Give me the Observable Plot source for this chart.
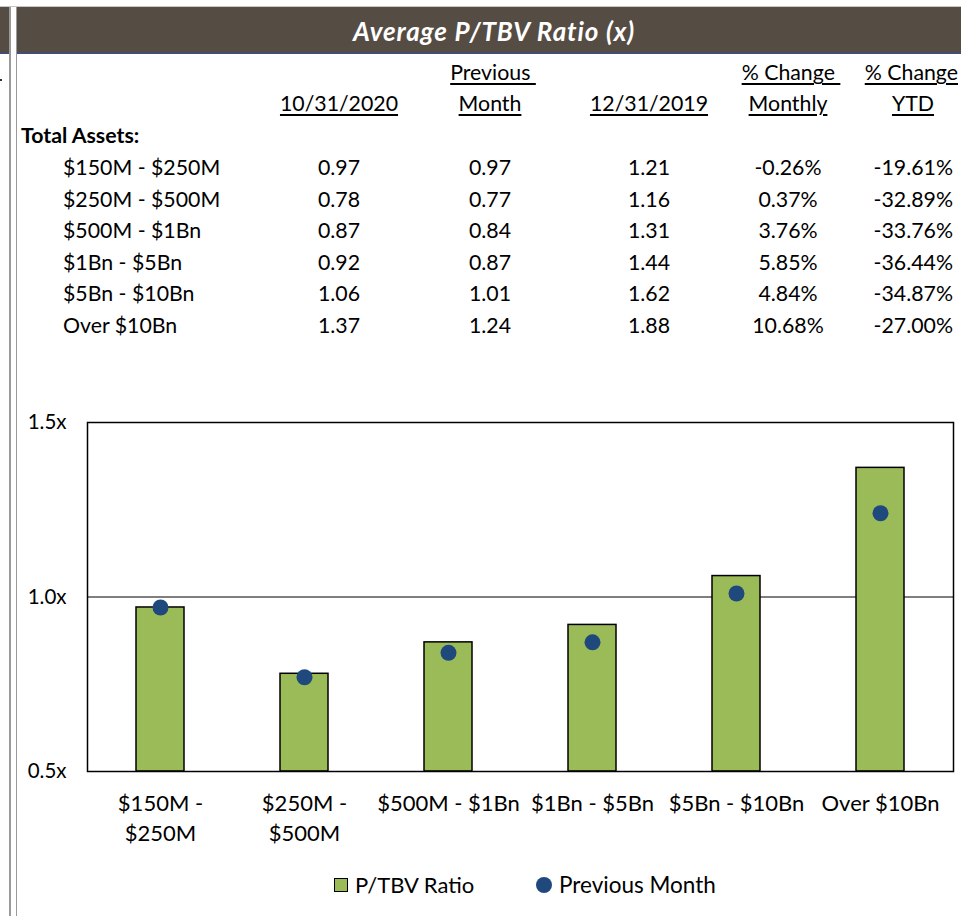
<!DOCTYPE html>
<html>
<head>
<meta charset="utf-8">
<script src="https://cdn.jsdelivr.net/npm/d3@7"></script>
<script src="https://cdn.jsdelivr.net/npm/@observablehq/plot@0.6"></script>
<style>
  html, body { margin: 0; padding: 0; background: #fff; }
  body { width: 961px; height: 916px; position: relative; overflow: hidden; font-family: Lato, "Open Sans", sans-serif; color: #000; }
  .abs { position: absolute; white-space: pre; }
  .cell { position: absolute; white-space: pre; font-size: 21.3px; line-height: 24px; transform: translate(-50%, -50%); }
  .left { transform: translate(0, -50%); }
  .u { text-decoration: underline; text-underline-offset: 3px; text-decoration-thickness: 1.5px; }
</style>
</head>
<body>
<div id="frame"></div>
<div id="table"></div>
<div id="chart" style="position:absolute;left:0;top:390px;"></div>
<div id="legend"></div>
<script>
// ---------------- data ----------------
const title = "Average P/TBV Ratio (x)";
const categories = ["$150M - $250M", "$250M - $500M", "$500M - $1Bn", "$1Bn - $5Bn", "$5Bn - $10Bn", "Over $10Bn"];
const xTickLabels = ["$150M -\n$250M", "$250M -\n$500M", "$500M - $1Bn", "$1Bn - $5Bn", "$5Bn - $10Bn", "Over $10Bn"];
const current = [0.97, 0.78, 0.87, 0.92, 1.06, 1.37];      // 10/31/2020
const previousMonth = [0.97, 0.77, 0.84, 0.87, 1.01, 1.24];
const yearEnd2019 = [1.21, 1.16, 1.31, 1.44, 1.62, 1.88];
const changeMonthly = ["-0.26%", "0.37%", "3.76%", "5.85%", "4.84%", "10.68%"];
const changeYTD = ["-19.61%", "-32.89%", "-33.76%", "-36.44%", "-34.87%", "-27.00%"];
const headerLine1 = ["", "Previous\u00a0", "", "% Change\u00a0", "% Change"];
const headerLine2 = ["10/31/2020", "Month", "12/31/2019", "Monthly", "YTD"];
const rowGroupLabel = "Total Assets:";
const yTicks = [0.5, 1.0, 1.5];
const yDomain = [0.5, 1.5];
const seriesNames = ["P/TBV Ratio", "Previous Month"];

// ---------------- page frame (header band, side rules) ----------------
const frame = document.getElementById("frame");
frame.innerHTML = `
  <div class="abs" style="left:0;top:6px;width:961px;height:1px;background:#c8c8c8"></div>
  <div class="abs" style="left:0;top:7px;width:9px;height:46px;background:#554d44"></div>
  <div class="abs" style="left:0;top:53px;width:9px;height:1px;background:#2f4f9f"></div>
  <div class="abs" style="left:16px;top:7px;width:945px;height:46px;background:#554d44"></div>
  <div class="abs" style="left:16px;top:53px;width:945px;height:1px;background:#2f4f9f"></div>
  <div class="abs" style="left:9px;top:7px;width:1.5px;height:909px;background:#9a9a9a"></div>
  <div class="abs" style="left:15.5px;top:7px;width:1.5px;height:909px;background:#9a9a9a"></div>
  <div class="abs" style="left:0;top:79px;width:2px;height:2px;background:#333"></div>
  <div class="abs" style="left:494px;top:31px;transform:translate(-50%,-50%);color:#fff;font-weight:bold;font-style:italic;font-size:26px;letter-spacing:0.9px;">${title}</div>
`;

// ---------------- table ----------------
const colX = [339, 490, 649, 788, 913];
const rowY0 = 167, rowStep = 31.6;
const table = document.getElementById("table");
let html = "";
headerLine1.forEach((t, i) => {
  if (!t) return;
  if (i === 4) html += `<div class="cell u" style="right:3px;top:72px;transform:translate(0,-50%)">${t}</div>`;
  else html += `<div class="cell u" style="left:${colX[i] + 3}px;top:72px">${t}</div>`;
});
headerLine2.forEach((t, i) => {
  html += `<div class="cell u" style="left:${colX[i]}px;top:103px">${t}</div>`;
});
html += `<div class="cell left" style="left:21px;top:135px;font-weight:bold">${rowGroupLabel}</div>`;
categories.forEach((c, r) => {
  const y = rowY0 + r * rowStep;
  html += `<div class="cell left" style="left:63px;top:${y}px">${c}</div>`;
  html += `<div class="cell" style="left:${colX[0]}px;top:${y}px">${current[r].toFixed(2)}</div>`;
  html += `<div class="cell" style="left:${colX[1]}px;top:${y}px">${previousMonth[r].toFixed(2)}</div>`;
  html += `<div class="cell" style="left:${colX[2]}px;top:${y}px">${yearEnd2019[r].toFixed(2)}</div>`;
  html += `<div class="cell" style="left:${colX[3]}px;top:${y}px">${changeMonthly[r]}</div>`;
  html += `<div class="cell" style="right:${961 - 953}px;top:${y}px;transform:translate(0,-50%)">${changeYTD[r]}</div>`;
});
table.innerHTML = html;

// ---------------- chart ----------------
const data = categories.map((c, i) => ({category: c, value: current[i], previous: previousMonth[i]}));
const labelOf = d => xTickLabels[categories.indexOf(d)];

const chart = Plot.plot({
  width: 961,
  height: 526,
  marginLeft: 87,
  marginRight: 8,
  marginTop: 32,
  marginBottom: 145,
  style: {fontFamily: "Lato, 'Open Sans', sans-serif", fontSize: "21px", color: "#000", background: "transparent"},
  x: {domain: categories, padding: 0},
  y: {domain: yDomain},
  marks: [
    Plot.ruleY([1.0], {stroke: "#000", strokeWidth: 1.2}),
    Plot.barY(data, {x: "category", y1: yDomain[0], y2: "value", fill: "#9bbb59", stroke: "#000", strokeWidth: 1.5, insetLeft: 48, insetRight: 48}),
    Plot.dot(data, {x: "category", y: "previous", r: 8, fill: "#1f497d", stroke: "none"}),
    Plot.frame({stroke: "#000", strokeWidth: 1.5}),
    Plot.axisY(yTicks, {tickSize: 0, tickPadding: 21, tickFormat: d => d.toFixed(1) + "x", fontSize: 20.5, label: null}),
    Plot.axisX({tickSize: 0, tickPadding: 18, tickFormat: labelOf, fontSize: 22, lineHeight: 1.36, label: null})
  ]
});
document.getElementById("chart").appendChild(chart);

// ---------------- legend ----------------
document.getElementById("legend").innerHTML = `
  <div class="abs" style="left:334px;top:878px;width:12px;height:12px;background:#9bbb59;border:1.5px solid #000"></div>
  <div class="cell left" style="left:355px;top:885px;font-size:22px">${seriesNames[0]}</div>
  <div class="abs" style="left:536px;top:877px;width:16px;height:16px;border-radius:50%;background:#1f497d"></div>
  <div class="cell left" style="left:559px;top:885px;font-size:22.5px">${seriesNames[1]}</div>
`;
</script>
</body>
</html>
